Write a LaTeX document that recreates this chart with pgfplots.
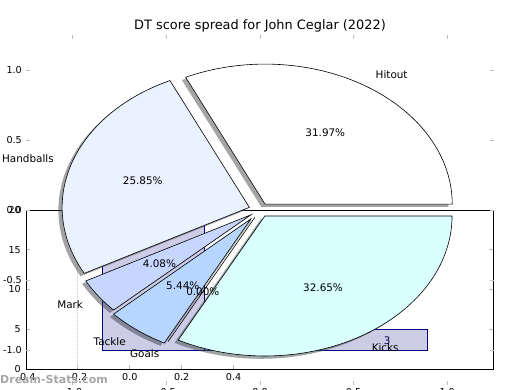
\documentclass[border=0pt]{standalone}
\usepackage{pgfplots}
\pgfplotsset{compat=1.18}
\usepackage{fontspec}
\setmainfont{DejaVu Sans}
\definecolor{cHit}{RGB}{255,255,255}
\definecolor{cHand}{RGB}{234,241,255}
\definecolor{cMark}{RGB}{198,214,255}
\definecolor{cTack}{RGB}{182,214,255}
\definecolor{cKick}{RGB}{217,255,255}
\definecolor{barfill}{RGB}{204,204,230}
\definecolor{baredge}{RGB}{0,0,128}
\newcommand{\lab}{\fontsize{10.4}{12}\selectfont}
\newcommand{\tk}{\fontsize{9.6}{11}\selectfont}
\begin{document}
\begin{tikzpicture}[x=1pt,y=1pt]
\useasboundingbox (0,0) rectangle (520,390);
\clip (0,0) rectangle (520,390);
% ---------------- bar axes (behind) ----------------
\begin{axis}[
  at={(26pt,21pt)}, anchor=south west, scale only axis,
  width=467pt, height=159pt,
  xmin=-0.4, xmax=1.4, ymin=0, ymax=20,
  axis background/.style={fill=white},
  axis line style={black, line width=0.9pt},
  xtick={-0.4,-0.2,0,0.2,0.4}, xticklabels={-0.4,-0.2,0.0,0.2,0.4},
  ytick={0,5,10,15,20},
  /pgf/number format/assume math mode=true,
  tick align=inside, tick pos=both, major tick length=4pt,
  tick style={gray!55, line width=0.8pt},
  ticklabel style={font=\tk, inner sep=0pt},
  xticklabel style={yshift=-4pt},
  yticklabel style={xshift=-5pt},
  no markers, clip=true]
\addplot[gray!45, densely dotted, line width=1pt] coordinates {(-0.2,0) (-0.2,20)};
\addplot[fill=barfill, draw=baredge, line width=0.8pt] coordinates {(0.2865,2.4) (0.2865,5.0) (1.149,5.0) (1.149,2.4)} -- cycle;
\addplot[fill=barfill, draw=baredge, line width=0.8pt] coordinates {(-0.104,2.4) (-0.104,18.5) (0.2865,18.5) (0.2865,2.4)} -- cycle;
\node[font=\lab, text=baredge!60!black] at (axis cs:0.992,3.55) {3};
\end{axis}
% ---------------- pie axes (front, transparent) ----------------
\begin{axis}[
  at={(26pt,5pt)}, anchor=south west, scale only axis,
  width=468pt, height=350pt,
  xmin=-1.25, xmax=1.25, ymin=-1.25, ymax=1.25,
  axis line style={draw=none},
  xtick={-1,-0.5,0,0.5,1}, xticklabels={-1.0,-0.5,0.0,0.5,1.0},
  ytick={-1,-0.5,0,0.5,1}, yticklabels={-1.0,-0.5,0.0,0.5,1.0},
  tick align=inside, tick pos=both, major tick length=4pt,
  tick style={gray!50, line width=0.8pt},
  ticklabel style={font=\tk, inner sep=0pt},
  xticklabel style={yshift=-3.5pt},
  yticklabel style={xshift=-4pt},
  no markers, clip=false]
% shadows (offset -0.02,-0.02)
\addplot[fill=black!70!cHit, draw=none, fill opacity=0.5, domain=0:115.092, samples=90, variable=\t] ({0.00683+cos(\t)},{0.02219+sin(\t)}) -- (axis cs:0.00683,0.02219) -- cycle;
\addplot[fill=black!70!cHand, draw=none, fill opacity=0.5, domain=115.092:208.152, samples=80, variable=\t] ({-0.07694+cos(\t)},{-0.00108+sin(\t)}) -- (axis cs:-0.07694,-0.00108) -- cycle;
\addplot[fill=black!70!cMark, draw=none, fill opacity=0.5, domain=208.152:222.84, samples=20, variable=\t] ({-0.06885+cos(\t)},{-0.05484+sin(\t)}) -- (axis cs:-0.06885,-0.05484) -- cycle;
\addplot[fill=black!70!cTack, draw=none, fill opacity=0.5, domain=222.84:242.424, samples=25, variable=\t] ({-0.06856+cos(\t)},{-0.08358+sin(\t)}) -- (axis cs:-0.06856,-0.08358) -- cycle;
\addplot[draw=black!70, opacity=0.5, line width=0.6pt] coordinates {(-0.04778,-0.07319) (-0.51072,-0.95961)};
\addplot[fill=black!70!cKick, draw=none, fill opacity=0.5, domain=242.424:360, samples=90, variable=\t] ({0.00591+cos(\t)},{-0.06276+sin(\t)}) -- (axis cs:0.00591,-0.06276) -- cycle;
% wedges
\addplot[fill=cHit, draw=black, line width=0.6pt, domain=0:115.092, samples=90, variable=\t] ({0.02683+cos(\t)},{0.04219+sin(\t)}) -- (axis cs:0.02683,0.04219) -- cycle;
\addplot[fill=cHand, draw=black, line width=0.6pt, domain=115.092:208.152, samples=80, variable=\t] ({-0.05694+cos(\t)},{0.01892+sin(\t)}) -- (axis cs:-0.05694,0.01892) -- cycle;
\addplot[fill=cMark, draw=black, line width=0.6pt, domain=208.152:222.84, samples=20, variable=\t] ({-0.04885+cos(\t)},{-0.03484+sin(\t)}) -- (axis cs:-0.04885,-0.03484) -- cycle;
\addplot[fill=cTack, draw=black, line width=0.6pt, domain=222.84:242.424, samples=25, variable=\t] ({-0.04856+cos(\t)},{-0.06358+sin(\t)}) -- (axis cs:-0.04856,-0.06358) -- cycle;
\addplot[draw=black, line width=0.6pt] coordinates {(-0.02778,-0.05319) (-0.49072,-0.93961)};
\addplot[fill=cKick, draw=black, line width=0.6pt, domain=242.424:360, samples=90, variable=\t] ({0.02591+cos(\t)},{-0.04276+sin(\t)}) -- (axis cs:0.02591,-0.04276) -- cycle;
% labels
\node[font=\lab, anchor=west, inner sep=0pt] at (axis cs:0.61707,0.97043) {Hitout};
\node[font=\lab, anchor=east, inner sep=0pt] at (axis cs:-1.10086,0.36575) {Handballs};
\node[font=\lab, anchor=east, inner sep=0pt] at (axis cs:-0.94445,-0.67358) {Mark};
\node[font=\lab, anchor=east, inner sep=0pt] at (axis cs:-0.71622,-0.93786) {Tackle};
\node[font=\lab, anchor=east, inner sep=0pt] at (axis cs:-0.53701,-1.02825) {Goals};
\node[font=\lab, anchor=west, inner sep=0pt] at (axis cs:0.59594,-0.98355) {Kicks};
\node[font=\lab] at (axis cs:0.34878,0.54850) {31.97\%};
\node[font=\lab] at (axis cs:-0.62635,0.20810) {25.85\%};
\node[font=\lab] at (axis cs:-0.53736,-0.38324) {4.08\%};
\node[font=\lab] at (axis cs:-0.41274,-0.54046) {5.44\%};
\node[font=\lab] at (axis cs:-0.30554,-0.58504) {0.00\%};
\node[font=\lab] at (axis cs:0.33684,-0.55592) {32.65\%};
\end{axis}
\node[font=\fontsize{12.9}{15}\selectfont, anchor=base] at (260,360) {DT score spread for John Ceglar (2022)};
\node[font=\fontsize{11}{13}\selectfont\bfseries, text=gray!70, anchor=west, inner sep=0pt] at (0,10) {Dream-Stats.com};
\end{tikzpicture}
\end{document}
